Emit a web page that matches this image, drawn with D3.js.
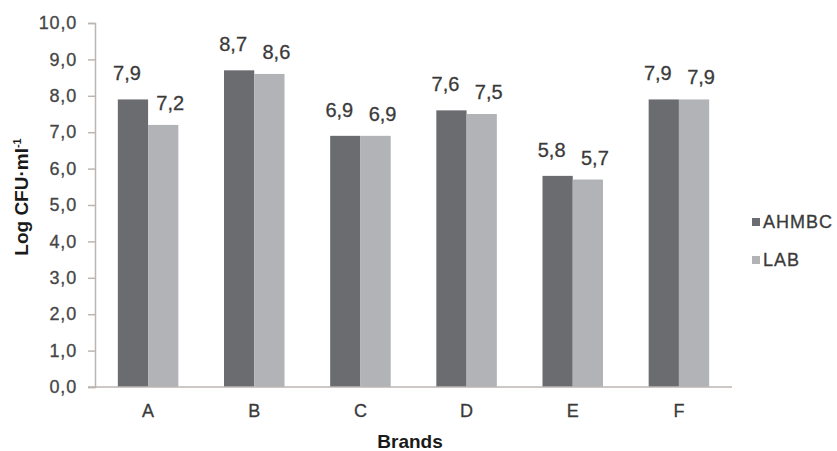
<!DOCTYPE html>
<html><head><meta charset="utf-8">
<script src="https://cdn.jsdelivr.net/npm/d3@7"></script>
<style>
html,body{margin:0;padding:0;background:#fff;}
svg{display:block;font-family:"Liberation Sans",Arial,sans-serif;}
.thick{stroke-width:0.3px;paint-order:stroke;}
</style></head>
<body>
<svg id="chart" width="837" height="451"></svg>
<script>
const categories = ["A","B","C","D","E","F"];
const seriesNames = ["AHMBC","LAB"];
const ahmbcValues = [7.9, 8.7, 6.9, 7.6, 5.8, 7.9];
const labValues = [7.2, 8.6, 6.9, 7.5, 5.7, 7.9];
const ahmbcLabels = ["7,9","8,7","6,9","7,6","5,8","7,9"];
const labLabels = ["7,2","8,6","6,9","7,5","5,7","7,9"];
const yTickValues = [0,1,2,3,4,5,6,7,8,9,10];
const yTickLabels = ["0,0","1,0","2,0","3,0","4,0","5,0","6,0","7,0","8,0","9,0","10,0"];
const xTitle = "Brands";

const colors = {AHMBC:"#6b6c70", LAB:"#b1b3b6"};
const axisColor = "#bcb6b2";
const plotL = 95, plotR = 732, plotT = 23, plotB = 387;

const svg = d3.select("#chart");
const y = d3.scaleLinear().domain([0,10]).range([plotB, plotT]);
const x0 = d3.scaleBand().domain(categories).range([plotL, plotR]).paddingInner(0.43).paddingOuter(0.215);
const x1 = d3.scaleBand().domain(seriesNames).range([0, x0.bandwidth()]);

const data = categories.map((c,i)=>({cat:c, vals:[
  {s:"AHMBC", v:ahmbcValues[i], lab:ahmbcLabels[i]},
  {s:"LAB", v:labValues[i], lab:labLabels[i]}]}));

// y axis
const yAxis = d3.axisLeft(y).tickValues(yTickValues).tickSize(7).tickPadding(11)
  .tickFormat((d,i)=>yTickLabels[i]);
const gy = svg.append("g").attr("transform",`translate(${plotL},0)`).call(yAxis);
gy.select(".domain").attr("stroke",axisColor).attr("stroke-width",1.5);
gy.selectAll(".tick line").attr("stroke",axisColor).attr("stroke-width",1.5);
gy.selectAll(".tick text").attr("class","thick").attr("fill","#454545").attr("stroke","#454545")
  .style("font-size","18px").style("letter-spacing","0.8px").style("font-family","Liberation Sans, Arial, sans-serif");

// bars
const groups = svg.append("g").selectAll("g").data(data).join("g")
  .attr("transform", d=>`translate(${x0(d.cat)},0)`);
groups.selectAll("rect").data(d=>d.vals).join("rect")
  .attr("x", d=>x1(d.s)).attr("width", x1.bandwidth())
  .attr("y", d=>y(d.v)).attr("height", d=>y(0)-y(d.v))
  .attr("fill", d=>colors[d.s]);
groups.selectAll("text.val").data(d=>d.vals).join("text").attr("class","val thick")
  .attr("x", d=>x1(d.s)+x1.bandwidth()/2 + (d.s==="AHMBC"?-6:7))
  .attr("y", d=>y(d.v) - (d.s==="AHMBC"?19:15))
  .attr("text-anchor","middle").attr("fill","#3a3a3a").attr("stroke","#3a3a3a")
  .style("font-size","20px").text(d=>d.lab);

// x axis
const xAxis = d3.axisBottom(x0).tickSize(0).tickPadding(17);
const gx = svg.append("g").attr("transform",`translate(0,${plotB})`).call(xAxis);
gx.select(".domain").attr("stroke",axisColor).attr("stroke-width",1.5)
  .attr("d",`M${plotL-7},0H${plotR}`);
gx.selectAll(".tick text").attr("class","thick").attr("fill","#3a3a3a").attr("stroke","#3a3a3a")
  .style("font-size","18px").style("font-family","Liberation Sans, Arial, sans-serif");

// x title
svg.append("text").attr("x",410).attr("y",448).attr("text-anchor","middle")
  .attr("fill","#1a1a1a").style("font-size","19px").style("font-weight","bold").text(xTitle);

// y title
const yt = svg.append("text").attr("transform","translate(28,197) rotate(-90)")
  .attr("text-anchor","middle").attr("fill","#1a1a1a")
  .style("font-size","19px").style("font-weight","bold");
yt.append("tspan").text("Log CFU·ml");
yt.append("tspan").attr("dy",-7).style("font-size","11px").text("-1");

// legend
const leg = svg.append("g").selectAll("g").data(seriesNames).join("g")
  .attr("transform",(d,i)=>`translate(752,${218+i*38})`);
leg.append("rect").attr("width",8).attr("height",8).attr("fill",d=>colors[d]);
leg.append("text").attr("class","thick").attr("x",11).attr("y",10).attr("fill","#3a3a3a").attr("stroke","#3a3a3a")
  .style("font-size","18px").style("letter-spacing","1px").text(d=>d);
</script>
</body></html>
